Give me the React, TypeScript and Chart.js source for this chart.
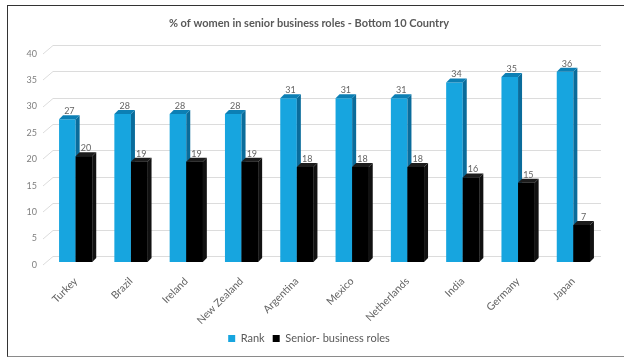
import React, { useEffect, useRef } from 'react';
import { Chart, registerables } from 'chart.js';

Chart.register(...registerables);

const titleText = '% of women in senior business roles - Bottom 10 Country';
const categories = ['Turkey', 'Brazil', 'Ireland', 'New Zealand', 'Argentina', 'Mexico', 'Netherlands', 'India', 'Germany', 'Japan'];
const rankValues = [27, 28, 28, 28, 31, 31, 31, 34, 35, 36];
const seniorValues = [20, 19, 19, 19, 18, 18, 18, 16, 15, 7];
const seriesNames = ['Rank', 'Senior- business roles'];
const yTicks = [0, 5, 10, 15, 20, 25, 30, 35, 40];

const FONT = 'Lato, "Open Sans", sans-serif';
const DEPTH = 4;
const faceColors = [
  { front: '#17a5df', top: '#0c7fb4', side: '#0a6c9b' },
  { front: '#000000', top: '#1c1c1c', side: '#111111' },
];

function drawFaces(ctx: any, meta: any, c: any, withFront: boolean) {
  meta.data.forEach((bar: any) => {
    const { x, y, base, width } = bar.getProps(['x', 'y', 'base', 'width'], true);
    const l = x - width / 2;
    const r = x + width / 2;
    if (withFront) {
      ctx.fillStyle = c.front;
      ctx.fillRect(l, y, r - l, base - y);
    }
    ctx.fillStyle = c.side;
    ctx.beginPath();
    ctx.moveTo(r, y);
    ctx.lineTo(r + DEPTH, y - DEPTH);
    ctx.lineTo(r + DEPTH, base - DEPTH);
    ctx.lineTo(r, base);
    ctx.closePath();
    ctx.fill();
    ctx.fillStyle = c.top;
    ctx.beginPath();
    ctx.moveTo(l, y);
    ctx.lineTo(l + DEPTH, y - DEPTH);
    ctx.lineTo(r + DEPTH, y - DEPTH);
    ctx.lineTo(r, y);
    ctx.closePath();
    ctx.fill();
  });
}

const bar3d = {
  id: 'bar3d',
  beforeDatasetsDraw(chart: any) {
    const ctx = chart.ctx;
    const y = chart.scales.y;
    const { left, right } = chart.chartArea;
    ctx.save();
    ctx.strokeStyle = '#dcdcdc';
    ctx.lineWidth = 1;
    for (const v of yTicks) {
      const py = Math.round(y.getPixelForValue(v)) + 0.5;
      ctx.beginPath();
      ctx.moveTo(left - 5, py + 2.5);
      ctx.lineTo(left + 5, py - 6);
      ctx.lineTo(right, py - 6);
      ctx.stroke();
    }
    ctx.restore();
  },
  afterDatasetsDraw(chart: any) {
    const ctx = chart.ctx;
    ctx.save();
    drawFaces(ctx, chart.getDatasetMeta(0), faceColors[0], false);
    drawFaces(ctx, chart.getDatasetMeta(1), faceColors[1], true);
    ctx.font = `9px ${FONT}`;
    ctx.fillStyle = '#636363';
    ctx.textAlign = 'center';
    ctx.textBaseline = 'middle';
    chart.data.datasets.forEach((ds: any, i: number) => {
      const meta = chart.getDatasetMeta(i);
      meta.data.forEach((bar: any, j: number) => {
        const { x, y } = bar.getProps(['x', 'y'], true);
        ctx.fillText(String(ds.data[j]), x + 2, y - 8);
      });
    });
    ctx.restore();
  },
};

export default function App() {
  const ref = useRef<HTMLCanvasElement>(null);
  useEffect(() => {
    document.body.style.margin = '0';
    const chart = new Chart(ref.current!, {
      type: 'bar',
      data: {
        labels: categories,
        datasets: [
          { label: seriesNames[0], data: rankValues, backgroundColor: faceColors[0].front, barPercentage: 1, categoryPercentage: 0.6 },
          { label: seriesNames[1], data: seniorValues, backgroundColor: faceColors[1].front, barPercentage: 1, categoryPercentage: 0.6 },
        ],
      },
      options: {
        responsive: false,
        animation: false,
        layout: { padding: { left: 17, right: 23, top: 17, bottom: 4 } },
        plugins: {
          title: {
            display: true,
            text: titleText,
            color: '#595959',
            font: { family: FONT, size: 11, weight: 'bold' },
            padding: { top: 0, bottom: 20.5 },
          },
          legend: {
            position: 'bottom',
            labels: {
              color: '#595959',
              font: { family: FONT, size: 11 },
              boxWidth: 7,
              boxHeight: 7,
              padding: 8,
            },
          },
          tooltip: { enabled: false },
        },
        scales: {
          x: {
            grid: { display: false, drawTicks: false },
            border: { display: false },
            ticks: {
              color: '#636363',
              font: { family: FONT, size: 10.5 },
              minRotation: 45,
              maxRotation: 45,
              padding: 13,
            },
            afterFit: (s: any) => { s.height = 63; },
          },
          y: {
            min: 0,
            max: 40,
            grid: { display: false, drawTicks: false },
            border: { display: false },
            ticks: {
              stepSize: 5,
              color: '#7f7f7f',
              font: { family: FONT, size: 9 },
              padding: 11,
              labelOffset: 3,
            },
            afterFit: (s: any) => { s.width = 31; },
          },
        },
      },
      plugins: [bar3d],
    });
    return () => chart.destroy();
  }, []);
  return (
    <div style={{ position: 'relative', width: 624, height: 358, overflow: 'hidden', background: '#fff' }}>
      <canvas ref={ref} width={624} height={358} style={{ display: 'block' }} />
      <div style={{ position: 'absolute', left: 7, top: 5, width: 640, height: 350, borderLeft: '1.5px solid #333', borderTop: '1.5px solid #333', borderBottom: '1.5px solid #8a8a8a', pointerEvents: 'none' }} />
    </div>
  );
}
